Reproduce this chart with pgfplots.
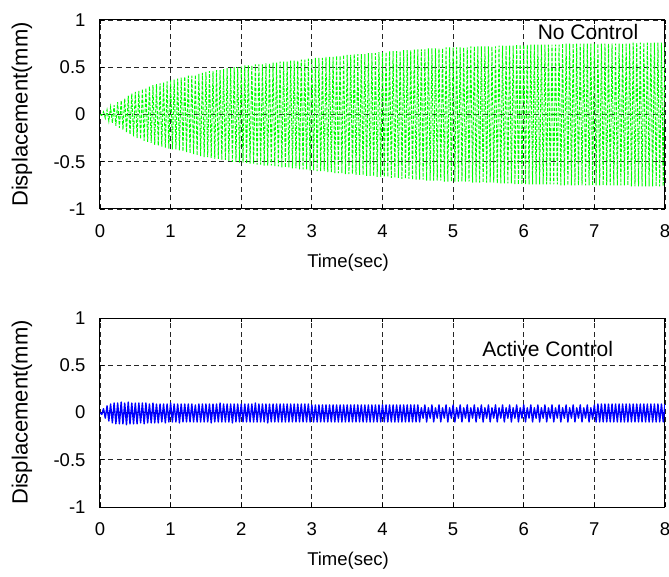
\documentclass[border=0pt]{standalone}
\usepackage{fontspec}
\setmainfont{Liberation Sans}
\usepackage{pgfplots}
\pgfplotsset{compat=1.18}
\definecolor{mgreen}{rgb}{0,1,0}
\definecolor{mblue}{rgb}{0,0,1}
\pgfplotsset{
  myax/.style={
    scale only axis, width=565pt, height=189pt,
    xmin=0, xmax=8, ymin=-1, ymax=1,
    xtick={0,1,2,3,4,5,6,7,8}, xticklabels={0,1,2,3,4,5,6,7,8},
    ytick={-1,-0.5,0,0.5,1}, yticklabels={-1,-0.5,0,0.5,1},
    /pgf/number format/assume math mode=true,
    grid=major,
    major grid style={black!85, dash pattern=on 5pt off 3.5pt, line width=0.9pt},
    tick align=inside, major tick length=4pt,
    tick style={black, line width=0.8pt},
    axis line style={black, line width=1pt},
    tick label style={font=\fontsize{18.5}{22}\selectfont},
    xticklabel style={yshift=-12.5pt},
    yticklabel style={xshift=-11pt},
    xlabel={Time(sec)}, ylabel={Displacement(mm)},
    xlabel style={font=\fontsize{18.5}{22}\selectfont, at={(axis description cs:0.439,-0.286)}, anchor=center},
    ylabel style={font=\fontsize{22}{26}\selectfont, at={(axis description cs:-0.138,0.5)}, anchor=center, rotate=0},
  }
}
\begin{document}
\begin{tikzpicture}
\begin{axis}[myax, at={(100pt,367pt)}, anchor=south west]
\addplot[mgreen, line width=0.95pt, dash pattern=on 3.5pt off 1.5pt] table[row sep=\\] {
x y\\
0 0\\0.025 -0.01\\0.05 0.03\\0.075 -0.04\\0.1 0.05\\0.125 -0.07\\0.15 0.08\\0.175 -0.09\\0.2 0.10\\0.225 -0.12\\
0.25 0.13\\0.275 -0.14\\0.3 0.15\\0.325 -0.16\\0.35 0.17\\0.375 -0.19\\0.4 0.20\\0.425 -0.21\\0.45 0.22\\0.475 -0.23\\
0.5 0.24\\0.525 -0.25\\0.55 0.25\\0.575 -0.26\\0.6 0.27\\0.625 -0.28\\0.65 0.28\\0.675 -0.29\\0.7 0.30\\0.725 -0.30\\
0.75 0.31\\0.775 -0.32\\0.8 0.32\\0.825 -0.33\\0.85 0.33\\0.875 -0.34\\0.9 0.34\\0.925 -0.35\\0.95 0.35\\0.975 -0.36\\
1 0.36\\1.025 -0.37\\1.05 0.37\\1.075 -0.37\\1.1 0.38\\1.125 -0.38\\1.15 0.39\\1.175 -0.39\\1.2 0.40\\1.225 -0.40\\
1.25 0.41\\1.275 -0.41\\1.3 0.41\\1.325 -0.42\\1.35 0.42\\1.375 -0.43\\1.4 0.43\\1.425 -0.44\\1.45 0.44\\1.475 -0.45\\
1.5 0.45\\1.525 -0.45\\1.55 0.46\\1.575 -0.46\\1.6 0.46\\1.625 -0.47\\1.65 0.47\\1.675 -0.47\\1.7 0.47\\1.725 -0.48\\
1.75 0.48\\1.775 -0.48\\1.8 0.49\\1.825 -0.49\\1.85 0.49\\1.875 -0.50\\1.9 0.50\\1.925 -0.50\\1.95 0.50\\1.975 -0.51\\
2 0.51\\2.025 -0.51\\2.05 0.52\\2.075 -0.52\\2.1 0.52\\2.125 -0.52\\2.15 0.52\\2.175 -0.52\\2.2 0.53\\2.225 -0.53\\
2.25 0.53\\2.275 -0.53\\2.3 0.53\\2.325 -0.54\\2.35 0.54\\2.375 -0.54\\2.4 0.54\\2.425 -0.54\\2.45 0.55\\2.475 -0.55\\
2.5 0.55\\2.525 -0.55\\2.55 0.56\\2.575 -0.56\\2.6 0.56\\2.625 -0.56\\2.65 0.56\\2.675 -0.56\\2.7 0.57\\2.725 -0.57\\
2.75 0.57\\2.775 -0.57\\2.8 0.57\\2.825 -0.58\\2.85 0.58\\2.875 -0.58\\2.9 0.58\\2.925 -0.58\\2.95 0.59\\2.975 -0.59\\
3 0.59\\3.025 -0.59\\3.05 0.60\\3.075 -0.60\\3.1 0.60\\3.125 -0.60\\3.15 0.60\\3.175 -0.60\\3.2 0.61\\3.225 -0.61\\
3.25 0.61\\3.275 -0.61\\3.3 0.61\\3.325 -0.62\\3.35 0.62\\3.375 -0.62\\3.4 0.62\\3.425 -0.62\\3.45 0.63\\3.475 -0.63\\
3.5 0.63\\3.525 -0.63\\3.55 0.63\\3.575 -0.63\\3.6 0.64\\3.625 -0.64\\3.65 0.64\\3.675 -0.64\\3.7 0.64\\3.725 -0.64\\
3.75 0.64\\3.775 -0.65\\3.8 0.65\\3.825 -0.65\\3.85 0.65\\3.875 -0.65\\3.9 0.65\\3.925 -0.66\\3.95 0.66\\3.975 -0.66\\
4 0.66\\4.025 -0.66\\4.05 0.66\\4.075 -0.66\\4.1 0.67\\4.125 -0.67\\4.15 0.67\\4.175 -0.67\\4.2 0.67\\4.225 -0.67\\
4.25 0.67\\4.275 -0.68\\4.3 0.68\\4.325 -0.68\\4.35 0.68\\4.375 -0.68\\4.4 0.68\\4.425 -0.69\\4.45 0.69\\4.475 -0.69\\
4.5 0.69\\4.525 -0.69\\4.55 0.69\\4.575 -0.69\\4.6 0.69\\4.625 -0.70\\4.65 0.70\\4.675 -0.70\\4.7 0.70\\4.725 -0.70\\
4.75 0.70\\4.775 -0.70\\4.8 0.70\\4.825 -0.70\\4.85 0.70\\4.875 -0.71\\4.9 0.71\\4.925 -0.71\\4.95 0.71\\4.975 -0.71\\
5 0.71\\5.025 -0.71\\5.05 0.71\\5.075 -0.71\\5.1 0.71\\5.125 -0.71\\5.15 0.71\\5.175 -0.71\\5.2 0.71\\5.225 -0.71\\
5.25 0.72\\5.275 -0.72\\5.3 0.72\\5.325 -0.72\\5.35 0.72\\5.375 -0.72\\5.4 0.72\\5.425 -0.72\\5.45 0.72\\5.475 -0.72\\
5.5 0.72\\5.525 -0.72\\5.55 0.72\\5.575 -0.72\\5.6 0.72\\5.625 -0.73\\5.65 0.73\\5.675 -0.73\\5.7 0.73\\5.725 -0.73\\
5.75 0.73\\5.775 -0.73\\5.8 0.73\\5.825 -0.73\\5.85 0.73\\5.875 -0.74\\5.9 0.74\\5.925 -0.74\\5.95 0.74\\5.975 -0.74\\
6 0.74\\6.025 -0.74\\6.05 0.74\\6.075 -0.74\\6.1 0.74\\6.125 -0.74\\6.15 0.74\\6.175 -0.74\\6.2 0.74\\6.225 -0.74\\
6.25 0.74\\6.275 -0.74\\6.3 0.74\\6.325 -0.74\\6.35 0.74\\6.375 -0.74\\6.4 0.74\\6.425 -0.74\\6.45 0.74\\6.475 -0.74\\
6.5 0.74\\6.525 -0.75\\6.55 0.75\\6.575 -0.75\\6.6 0.75\\6.625 -0.75\\6.65 0.75\\6.675 -0.75\\6.7 0.75\\6.725 -0.75\\
6.75 0.75\\6.775 -0.75\\6.8 0.75\\6.825 -0.75\\6.85 0.75\\6.875 -0.75\\6.9 0.75\\6.925 -0.75\\6.95 0.75\\6.975 -0.75\\
7 0.75\\7.025 -0.75\\7.05 0.75\\7.075 -0.75\\7.1 0.75\\7.125 -0.75\\7.15 0.75\\7.175 -0.75\\7.2 0.75\\7.225 -0.75\\
7.25 0.75\\7.275 -0.75\\7.3 0.75\\7.325 -0.75\\7.35 0.75\\7.375 -0.75\\7.4 0.75\\7.425 -0.75\\7.45 0.75\\7.475 -0.75\\
7.5 0.75\\7.525 -0.76\\7.55 0.76\\7.575 -0.76\\7.6 0.76\\7.625 -0.76\\7.65 0.76\\7.675 -0.76\\7.7 0.76\\7.725 -0.76\\
7.75 0.76\\7.775 -0.76\\7.8 0.76\\7.825 -0.76\\7.85 0.76\\7.875 -0.76\\7.9 0.76\\7.925 -0.76\\7.95 0.76\\7.975 -0.76\\
8 0.76\\
};
\node[font=\fontsize{21}{24}\selectfont] at (axis cs:6.91,0.868) {No Control};
\end{axis}
\begin{axis}[myax, at={(100pt,69pt)}, anchor=south west]
\addplot[mblue, line width=1.4pt, line join=round] table[row sep=\\] {
x y\\
0 0\\0.025 -0.02\\0.05 0.04\\0.075 -0.06\\0.1 0.07\\0.125 -0.09\\0.15 0.09\\0.175 -0.11\\0.2 0.10\\0.225 -0.12\\
0.25 0.10\\0.275 -0.12\\0.3 0.11\\0.325 -0.12\\0.35 0.10\\0.375 -0.13\\0.4 0.11\\0.425 -0.12\\0.45 0.10\\0.475 -0.12\\
0.5 0.10\\0.525 -0.12\\0.55 0.10\\0.575 -0.11\\0.6 0.10\\0.625 -0.12\\0.65 0.10\\0.675 -0.11\\0.7 0.09\\0.725 -0.11\\
0.75 0.10\\0.775 -0.11\\0.8 0.09\\0.825 -0.11\\0.85 0.09\\0.875 -0.10\\0.9 0.09\\0.925 -0.11\\0.95 0.09\\0.975 -0.10\\
1 0.10\\1.025 -0.10\\1.05 0.09\\1.075 -0.10\\1.1 0.09\\1.125 -0.11\\1.15 0.09\\1.175 -0.10\\1.2 0.09\\1.225 -0.10\\
1.25 0.09\\1.275 -0.10\\1.3 0.09\\1.325 -0.10\\1.35 0.08\\1.375 -0.10\\1.4 0.09\\1.425 -0.10\\1.45 0.09\\1.475 -0.10\\
1.5 0.09\\1.525 -0.10\\1.55 0.09\\1.575 -0.11\\1.6 0.09\\1.625 -0.10\\1.65 0.09\\1.675 -0.10\\1.7 0.10\\1.725 -0.10\\
1.75 0.09\\1.775 -0.10\\1.8 0.09\\1.825 -0.10\\1.85 0.09\\1.875 -0.11\\1.9 0.09\\1.925 -0.10\\1.95 0.09\\1.975 -0.10\\
2 0.09\\2.025 -0.10\\2.05 0.09\\2.075 -0.10\\2.1 0.09\\2.125 -0.10\\2.15 0.09\\2.175 -0.10\\2.2 0.10\\2.225 -0.10\\
2.25 0.09\\2.275 -0.10\\2.3 0.09\\2.325 -0.10\\2.35 0.09\\2.375 -0.11\\2.4 0.09\\2.425 -0.10\\2.45 0.09\\2.475 -0.10\\
2.5 0.09\\2.525 -0.10\\2.55 0.09\\2.575 -0.10\\2.6 0.09\\2.625 -0.10\\2.65 0.09\\2.675 -0.10\\2.7 0.09\\2.725 -0.10\\
2.75 0.09\\2.775 -0.10\\2.8 0.09\\2.825 -0.10\\2.85 0.09\\2.875 -0.10\\2.9 0.09\\2.925 -0.10\\2.95 0.09\\2.975 -0.10\\
3 0.08\\3.025 -0.10\\3.05 0.08\\3.075 -0.10\\3.1 0.08\\3.125 -0.10\\3.15 0.08\\3.175 -0.10\\3.2 0.08\\3.225 -0.10\\
3.25 0.08\\3.275 -0.10\\3.3 0.08\\3.325 -0.10\\3.35 0.08\\3.375 -0.10\\3.4 0.08\\3.425 -0.10\\3.45 0.08\\3.475 -0.10\\
3.5 0.08\\3.525 -0.10\\3.55 0.08\\3.575 -0.10\\3.6 0.08\\3.625 -0.10\\3.65 0.08\\3.675 -0.10\\3.7 0.08\\3.725 -0.10\\
3.75 0.08\\3.775 -0.10\\3.8 0.08\\3.825 -0.10\\3.85 0.08\\3.875 -0.10\\3.9 0.08\\3.925 -0.10\\3.95 0.08\\3.975 -0.10\\
4 0.08\\4.025 -0.10\\4.05 0.08\\4.075 -0.10\\4.1 0.08\\4.125 -0.10\\4.15 0.08\\4.175 -0.10\\4.2 0.08\\4.225 -0.10\\
4.25 0.08\\4.275 -0.10\\4.3 0.08\\4.325 -0.10\\4.35 0.08\\4.375 -0.10\\4.4 0.08\\4.425 -0.10\\4.45 0.08\\4.475 -0.10\\
4.5 0.08\\4.525 -0.10\\4.55 0.05\\4.575 -0.06\\4.6 0.08\\4.625 -0.10\\4.65 0.05\\4.675 -0.06\\4.7 0.08\\4.725 -0.10\\
4.75 0.05\\4.775 -0.06\\4.8 0.08\\4.825 -0.10\\4.85 0.05\\4.875 -0.06\\4.9 0.08\\4.925 -0.10\\4.95 0.05\\4.975 -0.06\\
5 0.08\\5.025 -0.10\\5.05 0.05\\5.075 -0.06\\5.1 0.08\\5.125 -0.10\\5.15 0.05\\5.175 -0.06\\5.2 0.08\\5.225 -0.10\\
5.25 0.05\\5.275 -0.06\\5.3 0.08\\5.325 -0.10\\5.35 0.05\\5.375 -0.06\\5.4 0.08\\5.425 -0.10\\5.45 0.05\\5.475 -0.06\\
5.5 0.08\\5.525 -0.10\\5.55 0.05\\5.575 -0.06\\5.6 0.08\\5.625 -0.10\\5.65 0.05\\5.675 -0.06\\5.7 0.08\\5.725 -0.10\\
5.75 0.05\\5.775 -0.06\\5.8 0.08\\5.825 -0.10\\5.85 0.05\\5.875 -0.06\\5.9 0.08\\5.925 -0.10\\5.95 0.05\\5.975 -0.06\\
6 0.08\\6.025 -0.10\\6.05 0.05\\6.075 -0.06\\6.1 0.08\\6.125 -0.10\\6.15 0.05\\6.175 -0.06\\6.2 0.08\\6.225 -0.10\\
6.25 0.05\\6.275 -0.06\\6.3 0.08\\6.325 -0.10\\6.35 0.05\\6.375 -0.06\\6.4 0.08\\6.425 -0.10\\6.45 0.05\\6.475 -0.06\\
6.5 0.08\\6.525 -0.10\\6.55 0.05\\6.575 -0.06\\6.6 0.08\\6.625 -0.10\\6.65 0.05\\6.675 -0.06\\6.7 0.08\\6.725 -0.10\\
6.75 0.05\\6.775 -0.06\\6.8 0.08\\6.825 -0.10\\6.85 0.05\\6.875 -0.06\\6.9 0.08\\6.925 -0.10\\6.95 0.05\\6.975 -0.07\\
7 0.08\\7.025 -0.10\\7.05 0.09\\7.075 -0.10\\7.1 0.09\\7.125 -0.10\\7.15 0.09\\7.175 -0.10\\7.2 0.09\\7.225 -0.10\\
7.25 0.09\\7.275 -0.10\\7.3 0.09\\7.325 -0.10\\7.35 0.09\\7.375 -0.10\\7.4 0.09\\7.425 -0.10\\7.45 0.09\\7.475 -0.10\\
7.5 0.09\\7.525 -0.10\\7.55 0.09\\7.575 -0.10\\7.6 0.09\\7.625 -0.10\\7.65 0.09\\7.675 -0.10\\7.7 0.09\\7.725 -0.10\\
7.75 0.09\\7.775 -0.10\\7.8 0.09\\7.825 -0.10\\7.85 0.09\\7.875 -0.10\\7.9 0.09\\7.925 -0.10\\7.95 0.09\\7.975 -0.10\\
8 0.09\\
};
\node[font=\fontsize{21}{24}\selectfont] at (axis cs:6.34,0.67) {Active Control};
\end{axis}
\pgfresetboundingbox
\useasboundingbox (0,0) rectangle (669pt,576pt);
\end{tikzpicture}
\end{document}
